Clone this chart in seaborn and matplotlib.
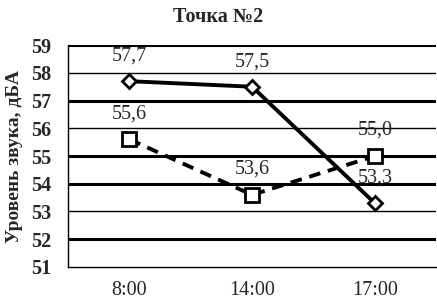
import pandas as pd
import matplotlib.pyplot as plt
import seaborn as sns

times = ["8:00", "14:00", "17:00"]
series_a = [57.7, 57.5, 53.3]
series_b = [55.6, 53.6, 55.0]
y_ticks = [51, 52, 53, 54, 55, 56, 57, 58, 59]

sns.set_style("white")
plt.rcParams["font.family"] = ["Liberation Serif", "DejaVu Serif"]

fig = plt.figure(figsize=(4.37, 3.03), dpi=100)
ax = fig.add_axes([0.156, 0.119, 0.842, 0.732])

# gridlines (scan shows uneven thickness)
grid_lw = {51: 0, 52: 2.2, 53: 1.0, 54: 2.2, 55: 2.2, 56: 1.0, 57: 2.2, 58: 1.0, 59: 2.2}
for v in y_ticks:
    if grid_lw[v]:
        ax.axhline(v, color="black", lw=grid_lw[v], zorder=1)

df = pd.DataFrame({"time": times, "a": series_a, "b": series_b})
sns.lineplot(data=df, x="time", y="a", ax=ax, color="black", lw=2.8,
             marker="D", markersize=7, markerfacecolor="white",
             markeredgecolor="black", markeredgewidth=2, sort=False, zorder=3)
sns.lineplot(data=df, x="time", y="b", ax=ax, color="black", lw=2.8,
             linestyle=(0, (3, 2)), marker="s", markersize=10,
             markerfacecolor="white", markeredgecolor="black",
             markeredgewidth=2, sort=False, zorder=3)

for i, (va, vb) in enumerate(zip(series_a, series_b)):
    ax.annotate(f"{va:.1f}".replace(".", ","), (i, va), xytext=(0, 18),
                textcoords="offset points", ha="center", va="center", fontsize=14.5)
    ax.annotate(f"{vb:.1f}".replace(".", ","), (i, vb), xytext=(0, 18.5),
                textcoords="offset points", ha="center", va="center", fontsize=14.5)

ax.set_xlim(-0.5, 2.5)
ax.set_ylim(51, 59)
ax.set_yticks(y_ticks)
ax.set_yticklabels([str(v) for v in y_ticks], fontsize=14.5, fontweight="bold")
ax.set_xticks(range(3))
ax.set_xticklabels(times, fontsize=14.5)
ax.tick_params(axis="x", length=0, pad=10)
ax.tick_params(axis="y", length=4, direction="inout", color="black", pad=10)
ax.set_xticks([-0.5, 0.5, 1.5, 2.5], minor=True)
ax.tick_params(axis="x", which="minor", length=5, direction="out", color="black")

for s in ["top", "right"]:
    ax.spines[s].set_visible(False)
for s in ["left", "bottom"]:
    ax.spines[s].set_color("black")
    ax.spines[s].set_linewidth(1.0)

ax.set_xlabel("")
ax.set_ylabel("Уровень звука, дБА", fontsize=14, fontweight="bold", labelpad=6)
fig.text(0.5, 0.944, "Точка №2", ha="center", va="center", fontsize=14.5,
         fontweight="bold")

fig.savefig("out.png", dpi=100)
